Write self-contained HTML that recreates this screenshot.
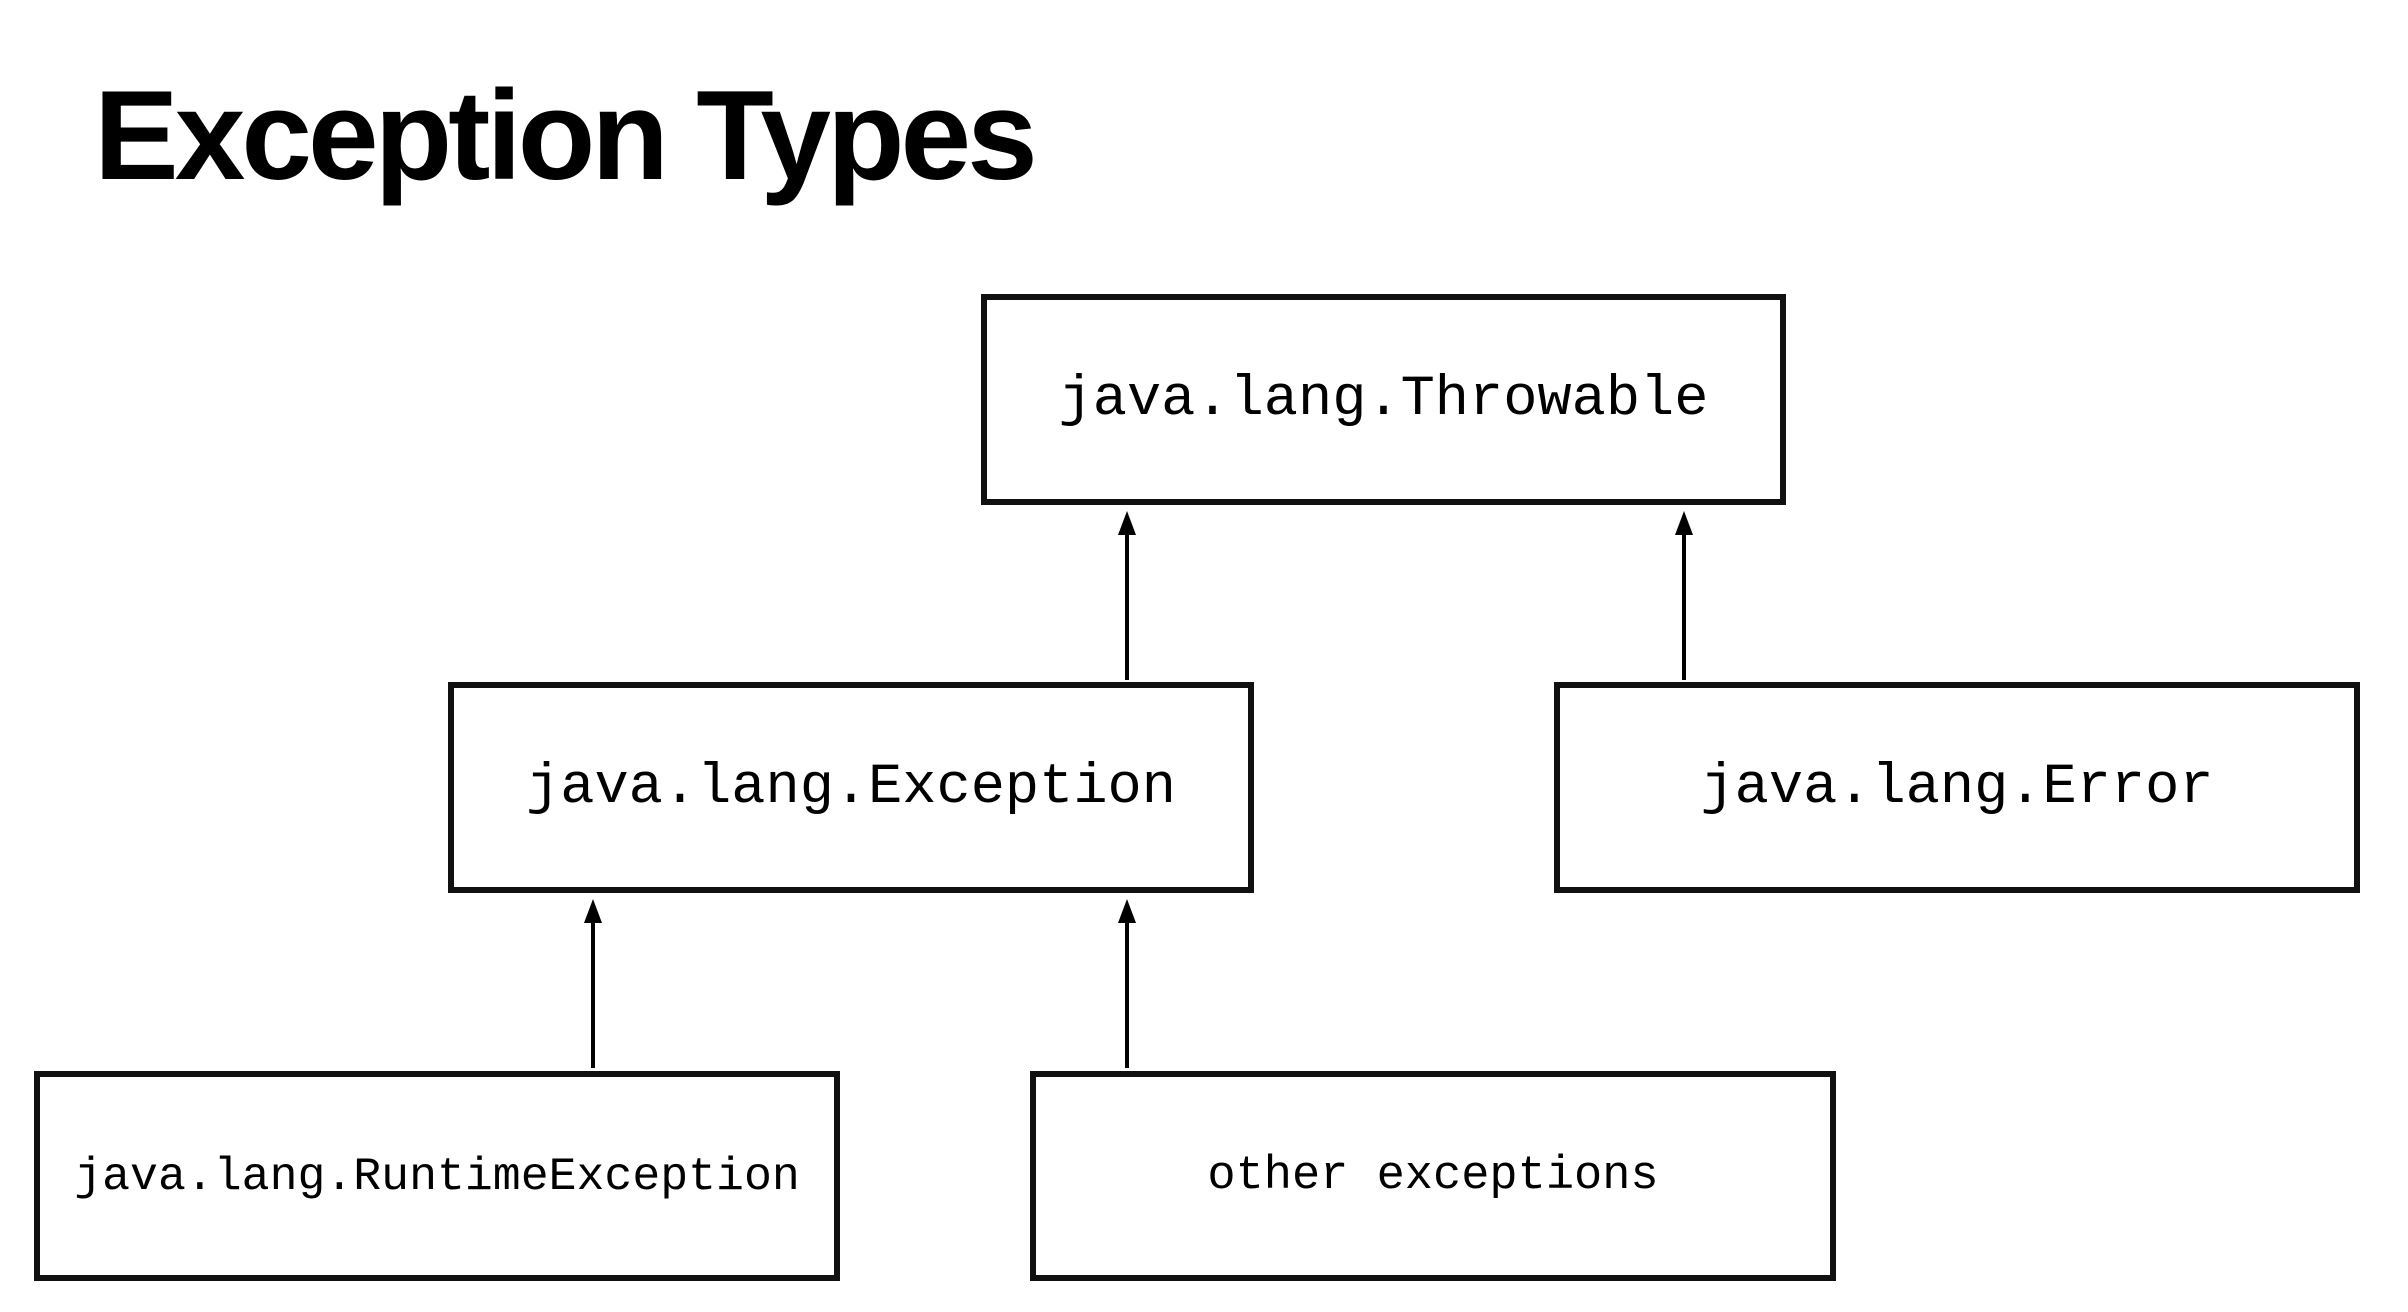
<!DOCTYPE html>
<html><head><meta charset="utf-8"><style>
html,body{margin:0;padding:0;background:#fff;}
body{width:2408px;height:1312px;position:relative;overflow:hidden;}
.t{position:absolute;left:94px;top:72px;font-family:"Liberation Sans",sans-serif;font-weight:bold;font-size:127px;letter-spacing:-4px;color:#000;line-height:1;}
.b{position:absolute;box-sizing:border-box;border:6px solid #111;display:flex;align-items:center;justify-content:center;font-family:"Liberation Mono",monospace;color:#000;}
</style></head><body>
<div class="t">Exception Types</div>
<div class="b" style="left:981px;top:294px;width:805px;height:211px;font-size:57px;">java.lang.Throwable</div>
<div class="b" style="left:448px;top:682px;width:806px;height:211px;font-size:57px;">java.lang.Exception</div>
<div class="b" style="left:1554px;top:682px;width:806px;height:211px;font-size:57px;">java.lang.Error</div>
<div class="b" style="left:34px;top:1071px;width:806px;height:210px;font-size:46.5px;">java.lang.RuntimeException</div>
<div class="b" style="left:1030px;top:1071px;width:806px;height:210px;font-size:47px;">other exceptions</div>
<svg width="2408" height="1312" style="position:absolute;left:0;top:0">
<g stroke="#000" stroke-width="4">
<line x1="1127" y1="680" x2="1127" y2="528"/>
<line x1="1684" y1="680" x2="1684" y2="528"/>
<line x1="593" y1="1068" x2="593" y2="917"/>
<line x1="1127" y1="1068" x2="1127" y2="917"/>
</g>
<g fill="#000">
<polygon points="1127,511 1118,535 1136,535"/>
<polygon points="1684,511 1675,535 1693,535"/>
<polygon points="593,899 584,923 602,923"/>
<polygon points="1127,899 1118,923 1136,923"/>
</g>
</svg>
</body></html>
